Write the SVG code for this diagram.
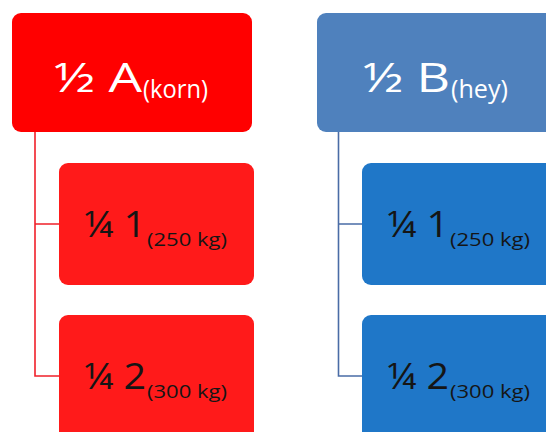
<svg xmlns="http://www.w3.org/2000/svg" width="546" height="432" viewBox="0 0 546 432">
<style>
.t{font-family:"Open Sans","Noto Sans",sans-serif}
.big{font-size:41px}
.bsub{font-size:25px}
.sm{font-size:36px}
.ssub{font-size:19px}
.w{fill:#ffffff}
.k{fill:#151515}
.red{fill:#FF0000}
.red2{fill:#FF1A1A}
.blue{fill:#4F81BD}
.blue2{fill:#1F77C8}
.cr{stroke:#F0202A;stroke-width:1.6;fill:none}
.cb{stroke:#4A6CA6;stroke-width:1.6;fill:none}
</style>
<rect width="546" height="432" fill="#ffffff"/>
<g id="connectors">
<path class="cr" d="M35 132 V376 H59 M35 224 H59"/>
<path class="cb" d="M338.5 132 V376 H362 M338.5 224 H362"/>
</g>
<g id="nodeA">
<rect class="red" x="12" y="13" width="240" height="119" rx="9"/>
<text class="t w big" x="54" y="92" textLength="88" lengthAdjust="spacingAndGlyphs">½ A</text>
<text class="t w bsub" x="143" y="98" textLength="65" lengthAdjust="spacingAndGlyphs">(korn)</text>
</g>
<g id="nodeB">
<rect class="blue" x="317" y="13" width="240" height="119" rx="9"/>
<text class="t w big" x="363" y="92" textLength="87" lengthAdjust="spacingAndGlyphs">½ B</text>
<text class="t w bsub" x="451" y="98" textLength="57" lengthAdjust="spacingAndGlyphs">(hey)</text>
</g>
<g id="nodeA1">
<rect class="red2" x="59" y="163" width="195" height="122" rx="9"/>
<text class="t k sm" x="84" y="237" textLength="62" lengthAdjust="spacingAndGlyphs">¼ 1</text>
<text class="t k ssub" x="147" y="246" textLength="80" lengthAdjust="spacingAndGlyphs">(250 kg)</text>
</g>
<g id="nodeA2">
<rect class="red2" x="59" y="315" width="195" height="130" rx="9"/>
<text class="t k sm" x="84" y="389" textLength="62" lengthAdjust="spacingAndGlyphs">¼ 2</text>
<text class="t k ssub" x="147" y="398" textLength="80" lengthAdjust="spacingAndGlyphs">(300 kg)</text>
</g>
<g id="nodeB1">
<rect class="blue2" x="362" y="163" width="195" height="122" rx="9"/>
<text class="t k sm" x="387" y="237" textLength="62" lengthAdjust="spacingAndGlyphs">¼ 1</text>
<text class="t k ssub" x="450" y="246" textLength="80" lengthAdjust="spacingAndGlyphs">(250 kg)</text>
</g>
<g id="nodeB2">
<rect class="blue2" x="362" y="315" width="195" height="130" rx="9"/>
<text class="t k sm" x="387" y="389" textLength="62" lengthAdjust="spacingAndGlyphs">¼ 2</text>
<text class="t k ssub" x="450" y="398" textLength="80" lengthAdjust="spacingAndGlyphs">(300 kg)</text>
</g>
</svg>
